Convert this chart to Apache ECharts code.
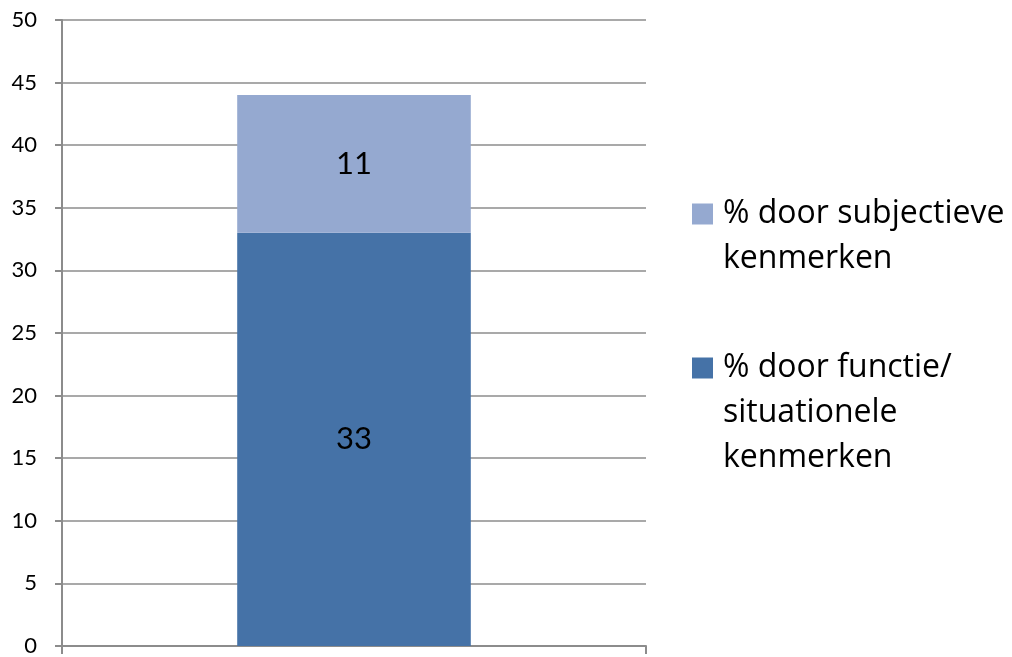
<!DOCTYPE html>
<html>
<head>
<meta charset="utf-8">
<script src="https://cdn.jsdelivr.net/npm/echarts@6/dist/echarts.min.js"></script>
<style>
  html, body { margin: 0; padding: 0; background: #fff; }
  #chart { width: 1012px; height: 657px; }
</style>
</head>
<body>
<div id="chart"></div>
<script>
// Data
const categories = [''];
const situationeel = [33];
const subjectief = [11];
const seriesNames = ['% door functie/\nsituationele\nkenmerken', '% door subjectieve\nkenmerken'];
const seriesColors = ['#4572A7', '#95A9D0'];
const yTicks = { min: 0, max: 50, interval: 5 };

const NUM_FONT = 'Lato, "Open Sans", sans-serif';
const TEXT_FONT = '"Open Sans", Lato, sans-serif';
const GRID = '#8C8C8C';

// Legend text: colour square before the first line, following lines indented
function legendText(name) {
  const idx = seriesNames.indexOf(name);
  const key = idx === 0 ? 'sqA' : 'sqB';
  const lines = name.split('\n');
  return lines.map((l, i) => (i === 0 ? '{' + key + '|}{gap|}' : '{ind|}') + '{t|' + l + '}').join('\n');
}

const chart = echarts.init(document.getElementById('chart'), null, { renderer: 'canvas' });
chart.setOption({
  animation: false,
  backgroundColor: '#ffffff',
  grid: { left: 62, right: 366, top: 20, bottom: 10, containLabel: false },
  legend: {
    orient: 'vertical',
    left: 681,
    top: 193,
    itemGap: 77,
    icon: 'none',
    itemWidth: 1,
    itemHeight: 1,
    data: [seriesNames[1], seriesNames[0]],
    formatter: legendText,
    textStyle: {
      color: '#000',
      fontFamily: TEXT_FONT,
      rich: {
        sqA: { width: 21, height: 21, backgroundColor: seriesColors[0] },
        sqB: { width: 21, height: 21, backgroundColor: seriesColors[1] },
        gap: { width: 10 },
        ind: { width: 31 },
        t: { fontSize: 32, lineHeight: 45, color: '#000', fontFamily: TEXT_FONT }
      }
    }
  },
  xAxis: {
    type: 'category',
    data: categories,
    boundaryGap: true,
    axisLine: { show: true, lineStyle: { color: GRID, width: 2 } },
    axisTick: { show: true, length: 8, lineStyle: { color: GRID, width: 2 } },
    axisLabel: { show: false },
    splitLine: { show: false }
  },
  yAxis: {
    type: 'value',
    min: yTicks.min,
    max: yTicks.max,
    interval: yTicks.interval,
    axisLine: { show: true, lineStyle: { color: GRID, width: 2 } },
    axisTick: { show: true, length: 7, lineStyle: { color: GRID, width: 2 } },
    axisLabel: { color: '#000', fontSize: 22, fontFamily: NUM_FONT, margin: 25 },
    splitLine: { show: true, lineStyle: { color: GRID, width: 1.5 } }
  },
  series: [
    {
      name: seriesNames[0],
      type: 'bar',
      stack: 'total',
      data: situationeel,
      barWidth: '40%',
      itemStyle: { color: seriesColors[0] },
      label: { show: true, position: 'inside', color: '#000', fontSize: 31, fontFamily: NUM_FONT }
    },
    {
      name: seriesNames[1],
      type: 'bar',
      stack: 'total',
      data: subjectief,
      barWidth: '40%',
      itemStyle: { color: seriesColors[1] },
      label: { show: true, position: 'inside', color: '#000', fontSize: 31, fontFamily: NUM_FONT }
    }
  ]
});
</script>
</body>
</html>
